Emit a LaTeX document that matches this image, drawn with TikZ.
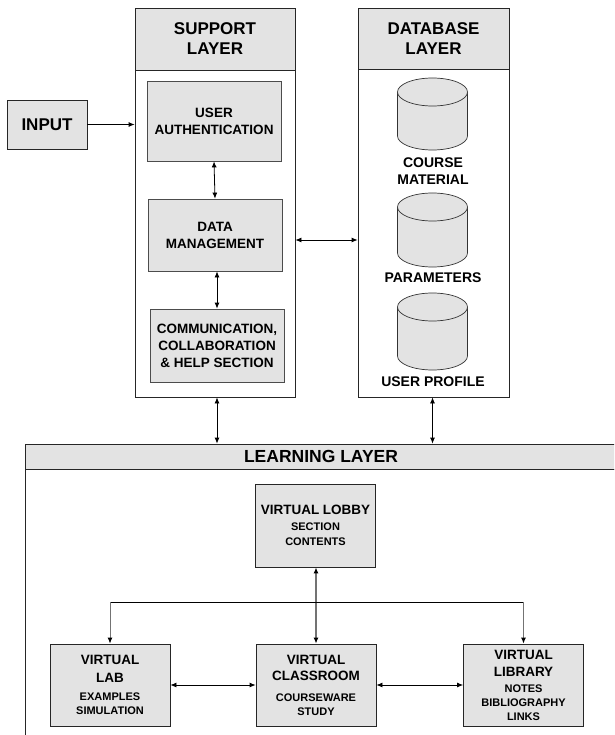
\documentclass[tikz,border=0pt]{standalone}
\usepackage{fontspec}
\setmainfont{Liberation Sans}
\usetikzlibrary{arrows.meta}
\definecolor{boxgray}{HTML}{E3E3E3}
% database cylinder: name, centre x, top y, bottom y
\newcommand\dbcyl[4]{%
	\draw[cylline] (#2,#4-14) ellipse [x radius=35pt, y radius=14pt];
	\fill[boxgray] (#2-35,#3+14) rectangle (#2+35,#4-14);
	\draw[cylline] (#2-35,#3+14) -- (#2-35,#4-14);
	\draw[cylline] (#2+35,#3+14) -- (#2+35,#4-14);
	\draw[cylline] (#2,#3+14) ellipse [x radius=35pt, y radius=14pt];
	\coordinate (#1) at (#2,#4);
}
\tikzset{
	layerhead/.style={draw=black!85, fill=boxgray, line width=0.8pt, align=center, inner sep=0pt,
		font=\bfseries\fontsize{17}{20}\selectfont},
	layerbody/.style={draw=black!85, fill=white, line width=0.8pt, inner sep=0pt},
	innerbox/.style={draw=black!70, fill=boxgray, line width=0.8pt, align=center, inner sep=0pt,
		minimum width=134pt, font=\bfseries\fontsize{13.5}{17}\selectfont},
	cylline/.style={draw=black!80, fill=boxgray, line width=0.7pt},
	dblabel/.style={align=center, font=\bfseries\fontsize{14}{17}\selectfont},
	vbox/.style={draw=black!85, fill=boxgray, line width=0.8pt, align=center, inner sep=0pt,
		minimum width=120pt, minimum height=82pt, font=\bfseries\fontsize{13.5}{14}\selectfont},
	arr/.style={line width=0.8pt, -{Latex[length=6pt,width=5pt]}},
	darr/.style={line width=0.8pt, {Latex[length=6pt,width=5pt]}-{Latex[length=6pt,width=5pt]}},
	garr/.style={line width=1pt, draw=black!55, -{Latex[length=6pt,width=5pt,color=black]}},
	gdarr/.style={line width=1.2pt, draw=black!55, {Latex[length=6pt,width=5pt,color=black]}-{Latex[length=6pt,width=5pt,color=black]}}
}
\newcommand\sm{\fontsize{11}{14}\selectfont}
\begin{document}
\begin{tikzpicture}[x=1pt, y=-1pt]
	\useasboundingbox (0,0) rectangle (614,735);
	\clip (0,0) rectangle (614,735);
	
	% input
	\node[layerhead, minimum width=80pt, minimum height=49pt] (input) at (47,124.5) {INPUT};
	
	% support layer
	\node[layerhead, minimum width=160pt, minimum height=62pt] (suphead) at (215,39) {SUPPORT\\LAYER};
	\node[layerbody, minimum width=160pt, minimum height=327pt] (sup) at (215,233.5) {};
	\node[innerbox, minimum height=80pt] (auth) at (214,121) {USER\\AUTHENTICATION};
	\node[innerbox, minimum height=72pt] (dm) at (215,235) {DATA\\MANAGEMENT};
	\node[innerbox, minimum height=73pt] (comm) at (217,345.5) {COMMUNICATION,\\COLLABORATION\\\& HELP SECTION};
	
	% database layer
	\node[layerhead, minimum width=151pt, minimum height=61pt] (dbhead) at (433.5,38.5) {DATABASE\\LAYER};
	\node[layerbody, minimum width=151pt, minimum height=328pt] (db) at (433.5,233) {};
	\dbcyl{course}{432.5}{78}{150}
	\node[dblabel] (courselab) at (433,171.5) {COURSE\\MATERIAL};
	\dbcyl{param}{432.5}{193}{267}
	\node[dblabel] (paramlab) at (433,278) {PARAMETERS};
	\dbcyl{profile}{432.5}{293}{370}
	\node[dblabel] (profilelab) at (433,382) {USER PROFILE};
	
	% learning layer
	\node[layerhead, minimum width=592pt, minimum height=25pt, font=\bfseries\fontsize{17.5}{20}\selectfont] (learnhead) at (321,456.5) {LEARNING LAYER};
	\node[layerbody, minimum width=592pt, minimum height=300pt] (learn) at (321,619) {};
	\node[vbox, minimum height=83pt] (lobby) at (315.5,525.5) {VIRTUAL LOBBY\\[2pt]\sm SECTION\\[1pt]\sm CONTENTS};
	\node[vbox] (lab) at (110,685) {VIRTUAL\\[4pt]LAB\\[4pt]\sm EXAMPLES\\\sm SIMULATION};
	\node[vbox] (room) at (316,685) {VIRTUAL\\[2pt]CLASSROOM\\[7pt]\sm COURSEWARE\\\sm STUDY};
	\node[vbox] (lib) at (523.5,685) {VIRTUAL\\[3pt]LIBRARY\\[2pt]\sm NOTES\\\sm BIBLIOGRAPHY\\\sm LINKS};
	\coordinate (hub) at (316,602);
	
	% connectors
	\draw[arr] (input.east) -- (sup.west |- input.east);
	\draw[darr] (auth.south) -- (dm.north);
	\draw[darr] (dm.south -| comm.north) -- (comm.north);
	\draw[darr] ([yshift=-5pt]sup.east |- dm.east) -- ([yshift=-5pt]db.west |- dm.east);
	\draw[darr] (sup.south -| comm.south) -- (learnhead.north -| comm.south);
	\draw[darr] (db.south -| profile) -- (learnhead.north -| profile);
	
	\draw[gdarr] (lobby.south -| room.north) -- (room.north);
	\draw[line width=0.8pt] (lab.north |- hub) -- (lib.north |- hub);
	\draw[garr] (lab.north |- hub) -- (lab.north);
	\draw[garr] (lib.north |- hub) -- (lib.north);
	\draw[darr] (lab.east) -- (room.west);
	\draw[darr] (room.east) -- (lib.west);
\end{tikzpicture}
\end{document}
